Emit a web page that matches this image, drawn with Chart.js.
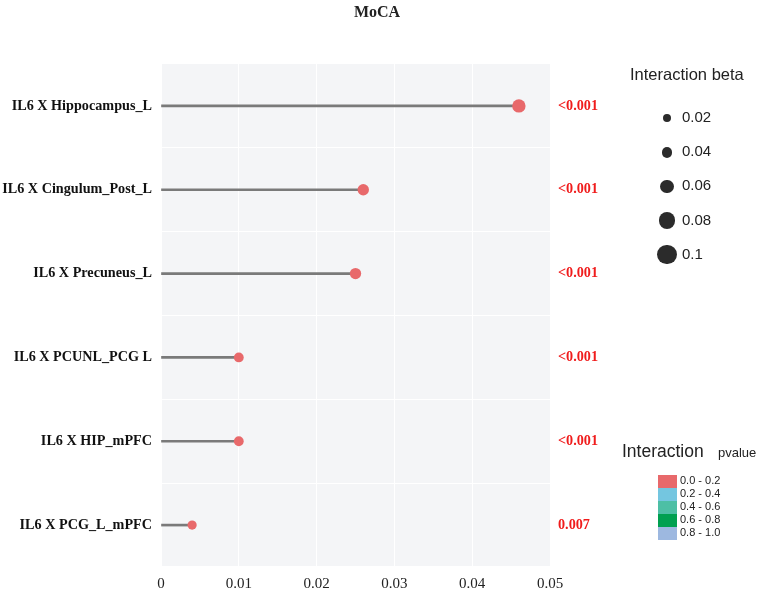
<!DOCTYPE html>
<html>
<head>
<meta charset="utf-8">
<title>MoCA</title>
<script src="https://cdn.jsdelivr.net/npm/chart.js@4.4.0/dist/chart.umd.min.js"></script>
<style>
  body { margin: 0; background: #fff; }
  #wrap { position: relative; width: 767px; height: 593px; }
  #title { position: absolute; left: 0; width: 754px; top: 3px; text-align: center;
           font: bold 16px "Liberation Serif", serif; color: #222; }
  .sans { font-family: "Liberation Sans", Arial, sans-serif; color: #222; position: absolute; }
  .dot { position: absolute; background: #2b2b2b; border-radius: 50%; }
  .box { position: absolute; width: 19px; height: 13px; }
</style>
</head>
<body>
<div id="wrap">
  <canvas id="chart1"></canvas>
  <div id="title">MoCA</div>
  <div id="legend"></div>
</div>
<script>
// data
const categories = ['IL6 X Hippocampus_L', 'IL6 X Cingulum_Post_L', 'IL6 X Precuneus_L',
                    'IL6 X PCUNL_PCG L', 'IL6 X HIP_mPFC', 'IL6 X PCG_L_mPFC'];
const betas = [0.046, 0.026, 0.025, 0.010, 0.010, 0.004];
const pLabels = ['<0.001', '<0.001', '<0.001', '<0.001', '<0.001', '0.007'];
const xTicks = [0, 0.01, 0.02, 0.03, 0.04, 0.05];
const sizeLegend = [0.02, 0.04, 0.06, 0.08, 0.1];
const pvalueBins = ['0.0 - 0.2', '0.2 - 0.4', '0.4 - 0.6', '0.6 - 0.8', '0.8 - 1.0'];
const binColors = ['#E8696B', '#74C6E0', '#4DBFA5', '#00A050', '#9DB8E0'];

const pointColor = '#E8696B';

function betaRadius(b) { return 4.4 + 50 * b; }

// shade the panel behind the plot
const panelBg = {
    id: 'panelBg',
    beforeDraw(chart) {
        const a = chart.chartArea, c = chart.ctx;
        c.save();
        c.fillStyle = '#F4F5F7';
        c.fillRect(a.left, a.top, a.right - a.left, a.bottom - a.top);
        c.restore();
    }
};

document.addEventListener("DOMContentLoaded", function() {
    const ctx1 = document.getElementById('chart1').getContext('2d');
    new Chart(ctx1, {
        type: 'bar',
        data: {
            labels: categories,
            datasets: [{
                label: 'stem',
                data: betas,
                backgroundColor: '#7a7a7a',
                barThickness: 2,
                order: 2
            }, {
                type: 'line',
                label: 'beta',
                data: betas,
                showLine: false,
                pointRadius: betas.map(betaRadius),
                pointBackgroundColor: pointColor,
                pointBorderWidth: 0,
                order: 1
            }]
        },
        options: {
            indexAxis: 'y',
            responsive: true,
            maintainAspectRatio: false,
            animation: false,
            events: [],
            layout: { padding: { top: 64, left: 0, right: 0, bottom: 0 } },
            plugins: { legend: { display: false }, tooltip: { enabled: false } },
            scales: {
                x: {
                    min: 0,
                    max: 0.05,
                    afterFit: function(s) { s.height = 26; },
                    afterBuildTicks: function(s) { s.ticks = xTicks.map(v => ({ value: v })); },
                    grid: { color: '#ffffff', lineWidth: 1, drawTicks: false },
                    border: { display: false },
                    ticks: {
                        padding: 8,
                        color: '#222',
                        font: { family: 'Liberation Serif', size: 15 },
                        callback: function(value) { return String(value); }
                    }
                },
                y: {
                    afterFit: function(s) { s.width = 161; },
                    grid: { color: '#ffffff', lineWidth: 1, drawTicks: false, offset: true },
                    border: { display: false },
                    ticks: {
                        padding: 9,
                        color: '#111',
                        font: { family: 'Liberation Serif', size: 14.2, weight: 'bold' }
                    }
                },
                y2: {
                    type: 'category',
                    position: 'right',
                    labels: pLabels,
                    offset: true,
                    afterFit: function(s) { s.width = 217; },
                    grid: { display: false },
                    border: { display: false },
                    ticks: {
                        padding: 0,
                        color: '#f01c1c',
                        font: { family: 'Liberation Serif', size: 14.2, weight: 'bold' }
                    }
                }
            }
        },
        plugins: [panelBg]
    });

    // legends as html text
    const lg = document.getElementById('legend');
    let html = '<div class="sans" style="left:630px;top:65px;font-size:16.5px;">Interaction beta</div>';
    sizeLegend.forEach(function(b, i) {
        const r = 2.5 + 72 * b;
        const cy = 118 + i * 34.2;
        html += '<div class="dot" style="left:' + (667 - r) + 'px;top:' + (cy - r) + 'px;width:' + (2 * r) + 'px;height:' + (2 * r) + 'px;"></div>';
        html += '<div class="sans" style="left:682px;top:' + (cy - 10) + 'px;font-size:15px;">' + b + '</div>';
    });
    html += '<div class="sans" style="left:622px;top:441px;font-size:17.5px;">Interaction</div>';
    html += '<div class="sans" style="left:718px;top:445px;font-size:13px;">pvalue</div>';
    pvalueBins.forEach(function(t, i) {
        const top = 475 + i * 13;
        html += '<div class="box" style="left:658px;top:' + top + 'px;background:' + binColors[i] + ';"></div>';
        html += '<div class="sans" style="left:680px;top:' + (top - 1) + 'px;font-size:11px;">' + t + '</div>';
    });
    lg.innerHTML = html;
});
</script>
</body>
</html>
